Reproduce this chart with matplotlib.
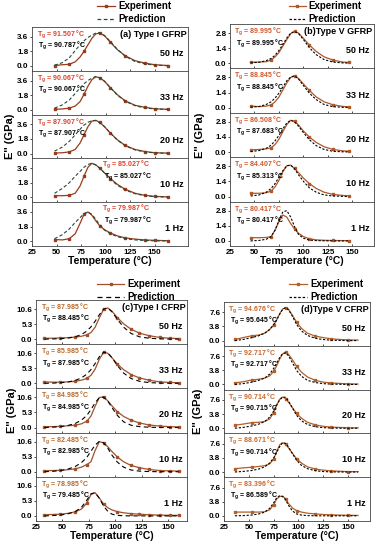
import matplotlib
matplotlib.use('Agg')
import matplotlib.pyplot as plt
from matplotlib.lines import Line2D

plt.rcParams['font.family'] = ['Liberation Sans', 'DejaVu Sans']
plt.rcParams['font.weight'] = 'bold'
plt.rcParams['mathtext.default'] = 'regular'

FREQS = ['50 Hz', '33 Hz', '20 Hz', '10 Hz', '1 Hz']

# ---- (a) Type I GFRP ----
a_temp = [48, 56, 63, 69, 74, 78, 82, 86, 90, 94, 99, 105, 112, 120, 130, 140, 150, 164]
a_mark = [0, 2, 5, 9, 11, 13, 15, 16, 17]
a_exp_50 = [0.05, 0.15, 0.2, 0.5, 1.1, 1.8, 2.6, 3.4, 3.95, 4.05, 3.7, 2.9, 2.0, 1.25, 0.65, 0.35, 0.15, 0.05]
a_pred_50 = [0.1, 0.4, 1.0, 1.9, 2.6, 3.1, 3.5, 3.8, 4.05, 4.1, 3.75, 3.0, 2.05, 1.2, 0.55, 0.25, 0.1, 0.02]
a_exp_33 = [0.05, 0.1, 0.2, 0.45, 1.0, 1.9, 2.9, 3.7, 4.05, 3.95, 3.5, 2.7, 1.85, 1.1, 0.55, 0.3, 0.12, 0.05]
a_pred_33 = [0.2, 0.6, 1.2, 2.0, 2.7, 3.2, 3.6, 3.9, 4.1, 3.95, 3.5, 2.7, 1.8, 1.05, 0.5, 0.22, 0.1, 0.03]
a_exp_20 = [0.05, 0.1, 0.2, 0.5, 1.3, 2.3, 3.3, 4.0, 4.1, 3.85, 3.3, 2.5, 1.7, 1.0, 0.5, 0.25, 0.1, 0.05]
a_pred_20 = [0.3, 0.8, 1.5, 2.3, 3.0, 3.5, 3.85, 4.05, 4.05, 3.8, 3.3, 2.5, 1.65, 0.95, 0.45, 0.2, 0.08, 0.03]
a_exp_10 = [0.2, 0.2, 0.25, 0.5, 1.4, 2.6, 3.7, 4.2, 4.0, 3.6, 3.0, 2.3, 1.6, 1.0, 0.5, 0.25, 0.12, 0.05]
a_pred_10 = [0.5, 1.1, 1.8, 2.6, 3.2, 3.7, 4.05, 4.2, 4.0, 3.6, 3.0, 2.2, 1.5, 0.9, 0.45, 0.2, 0.08, 0.03]
a_exp_1 = [0.2, 0.15, 0.3, 0.9, 2.2, 3.3, 3.6, 3.2, 2.5, 1.9, 1.4, 1.0, 0.65, 0.4, 0.25, 0.15, 0.1, 0.05]
a_pred_1 = [0.3, 0.8, 1.5, 2.3, 2.9, 3.4, 3.6, 3.3, 2.7, 2.0, 1.35, 0.9, 0.55, 0.3, 0.15, 0.08, 0.04, 0.02]
a_tg_exp = ['91.507', '90.067', '87.907', '85.027', '79.987']
a_tg_pred = ['90.787', '90.067', '87.907', '85.027', '79.987']

# ---- (b) Type V GFRP ----
b_temp = [46, 55, 62, 67, 71, 75, 79, 83, 87, 91, 95, 100, 106, 113, 121, 130, 140, 146]
b_mark = [0, 3, 9, 12, 15, 17]
b_exp_50 = [0.1, 0.12, 0.15, 0.3, 0.6, 1.0, 1.6, 2.2, 2.75, 2.95, 2.8, 2.3, 1.7, 1.1, 0.6, 0.3, 0.12, 0.08]
b_pred_50 = [0.05, 0.1, 0.25, 0.45, 0.75, 1.2, 1.75, 2.35, 2.8, 2.95, 2.75, 2.2, 1.45, 0.8, 0.35, 0.12, 0.04, 0.02]
b_exp_33 = [0.15, 0.1, 0.15, 0.25, 0.55, 1.0, 1.65, 2.3, 2.8, 2.95, 2.7, 2.2, 1.6, 1.0, 0.55, 0.28, 0.12, 0.08]
b_pred_33 = [0.05, 0.12, 0.3, 0.55, 0.9, 1.35, 1.9, 2.5, 2.85, 2.95, 2.65, 2.05, 1.35, 0.75, 0.3, 0.1, 0.04, 0.02]
b_exp_20 = [0.2, 0.25, 0.3, 0.4, 0.7, 1.2, 1.9, 2.55, 2.95, 2.85, 2.5, 1.95, 1.4, 0.9, 0.5, 0.25, 0.12, 0.08]
b_pred_20 = [0.05, 0.15, 0.35, 0.65, 1.05, 1.55, 2.15, 2.7, 2.95, 2.8, 2.4, 1.8, 1.15, 0.6, 0.25, 0.08, 0.03, 0.02]
b_exp_10 = [0.3, 0.3, 0.35, 0.5, 0.9, 1.5, 2.3, 2.85, 2.9, 2.6, 2.2, 1.7, 1.2, 0.75, 0.4, 0.2, 0.1, 0.06]
b_pred_10 = [0.05, 0.15, 0.4, 0.75, 1.2, 1.8, 2.4, 2.85, 2.9, 2.55, 2.0, 1.4, 0.8, 0.4, 0.15, 0.05, 0.02, 0.01]
b_exp_1 = [0.3, 0.3, 0.32, 0.4, 1.0, 1.8, 2.4, 2.2, 1.6, 1.1, 0.7, 0.4, 0.2, 0.1, 0.06, 0.04, 0.03, 0.02]
b_pred_1 = [0.0, 0.05, 0.15, 0.4, 1.0, 1.9, 2.7, 2.8, 2.2, 1.3, 0.6, 0.25, 0.08, 0.03, 0.01, 0.0, 0.0, 0.0]
b_tg_exp = ['89.995', '88.845', '86.508', '84.407', '80.417']
b_tg_pred = ['89.995', '88.845', '87.683', '85.313', '80.417']

# ---- (c) Type I CFRP ----
c_temp = [33, 40, 48, 55, 62, 68, 73, 77, 81, 85, 89, 93, 97, 102, 108, 115, 123, 132, 142, 152, 160]
c_mark = [0, 2, 4, 6, 10, 13, 15, 16, 17, 18, 19, 20]
c_exp_50 = [0.3, 0.3, 0.4, 0.5, 0.7, 1.0, 1.5, 2.3, 4.2, 7.5, 10.5, 11.0, 9.8, 7.6, 5.4, 3.5, 2.1, 1.2, 0.6, 0.3, 0.2]
c_pred_50 = [0.0, 0.05, 0.15, 0.35, 0.8, 1.6, 2.8, 4.3, 6.3, 8.6, 10.6, 11.0, 9.6, 7.0, 4.2, 2.0, 0.8, 0.3, 0.1, 0.0, 0.0]
c_exp_33 = [0.5, 0.4, 0.4, 0.5, 0.7, 1.1, 1.7, 2.8, 5.0, 8.5, 10.9, 10.6, 9.0, 6.8, 4.8, 3.1, 1.9, 1.1, 0.5, 0.3, 0.2]
c_pred_33 = [0.0, 0.05, 0.2, 0.45, 1.0, 1.9, 3.2, 4.8, 7.0, 9.4, 11.0, 10.7, 9.0, 6.3, 3.6, 1.7, 0.7, 0.25, 0.08, 0.0, 0.0]
c_exp_20 = [0.3, 0.3, 0.4, 0.6, 0.8, 1.3, 2.2, 4.0, 7.5, 10.6, 10.8, 9.4, 7.6, 5.6, 3.9, 2.6, 1.6, 0.9, 0.5, 0.3, 0.2]
c_pred_20 = [0.0, 0.1, 0.3, 0.7, 1.4, 2.6, 4.2, 6.3, 8.7, 10.6, 10.7, 9.3, 7.0, 4.3, 2.0, 0.8, 0.3, 0.1, 0.0, 0.0, 0.0]
c_exp_10 = [0.4, 0.4, 0.5, 0.7, 1.0, 1.6, 2.5, 3.5, 7.5, 10.6, 10.2, 8.8, 7.1, 5.2, 3.5, 2.2, 1.4, 0.8, 0.4, 0.3, 0.2]
c_pred_10 = [0.0, 0.1, 0.4, 0.9, 1.8, 3.2, 5.0, 7.2, 9.4, 10.7, 10.2, 8.3, 5.8, 3.4, 1.6, 0.6, 0.2, 0.05, 0.0, 0.0, 0.0]
c_exp_1 = [0.4, 0.5, 0.6, 0.9, 1.4, 2.4, 4.5, 7.5, 8.2, 6.3, 4.2, 2.9, 2.1, 1.5, 1.1, 0.8, 0.6, 0.4, 0.3, 0.2, 0.2]
c_pred_1 = [0.0, 0.1, 0.3, 0.7, 1.5, 3.0, 5.5, 7.8, 8.2, 6.2, 3.5, 1.6, 0.6, 0.2, 0.05, 0.0, 0.0, 0.0, 0.0, 0.0, 0.0]
c_tg_exp = ['87.985', '85.985', '84.985', '82.485', '78.985']
c_tg_pred = ['88.485', '87.985', '84.985', '82.985', '79.485']

# ---- (d) Type V CFRP ----
d_temp = [36, 44, 53, 60, 66, 71, 75, 78, 81, 84, 87, 90, 94, 98, 103, 109, 117, 125, 133, 142, 150, 160]
d_mark = [0, 2, 6, 10, 13, 16, 18, 20]
d_exp_50 = [0.3, 0.8, 1.3, 1.5, 2.0, 3.0, 4.2, 5.5, 7.2, 8.5, 8.9, 8.4, 6.8, 5.0, 3.3, 2.0, 1.2, 0.8, 0.5, 0.3, 0.2, 0.15]
d_pred_50 = [0.0, 0.3, 0.8, 1.3, 2.0, 3.0, 4.3, 5.6, 7.1, 8.4, 8.9, 8.3, 6.5, 4.4, 2.6, 1.4, 0.6, 0.3, 0.1, 0.05, 0.0, 0.0]
d_exp_33 = [0.4, 0.7, 1.2, 1.4, 1.7, 2.3, 3.5, 5.0, 6.8, 8.2, 8.6, 8.1, 6.6, 4.9, 3.3, 2.0, 1.1, 0.6, 0.4, 0.25, 0.15, 0.1]
d_pred_33 = [0.0, 0.2, 0.6, 1.1, 1.7, 2.8, 4.3, 5.7, 7.2, 8.3, 8.5, 7.7, 5.8, 3.8, 2.2, 1.1, 0.5, 0.2, 0.08, 0.03, 0.0, 0.0]
d_exp_20 = [0.8, 1.1, 1.5, 1.6, 1.8, 2.5, 4.2, 6.2, 7.8, 8.4, 8.0, 7.0, 5.5, 4.0, 2.7, 1.6, 0.9, 0.5, 0.3, 0.2, 0.1, 0.1]
d_pred_20 = [0.0, 0.2, 0.6, 1.1, 1.8, 3.0, 4.6, 6.2, 7.6, 8.4, 8.3, 7.3, 5.4, 3.5, 2.0, 1.0, 0.4, 0.15, 0.05, 0.0, 0.0, 0.0]
d_exp_10 = [0.9, 1.1, 1.3, 1.5, 1.7, 2.2, 3.5, 5.5, 7.3, 7.9, 7.5, 6.5, 5.0, 3.6, 2.4, 1.4, 0.8, 0.5, 0.3, 0.2, 0.1, 0.1]
d_pred_10 = [0.0, 0.15, 0.4, 0.8, 1.4, 2.4, 3.8, 5.2, 6.8, 7.9, 7.7, 6.7, 4.9, 3.2, 1.8, 0.9, 0.35, 0.12, 0.04, 0.0, 0.0, 0.0]
d_exp_1 = [1.0, 1.0, 1.0, 1.0, 1.1, 1.6, 3.0, 4.5, 5.2, 5.3, 4.6, 3.3, 2.1, 1.4, 1.0, 0.7, 0.5, 0.35, 0.25, 0.2, 0.15, 0.1]
d_pred_1 = [0.0, 0.05, 0.2, 0.5, 1.0, 2.0, 3.5, 4.8, 5.4, 5.2, 4.3, 2.8, 1.3, 0.5, 0.2, 0.05, 0.0, 0.0, 0.0, 0.0, 0.0, 0.0]
d_tg_exp = ['94.676', '92.717', '90.714', '88.671', '83.396']
d_tg_pred = ['95.645', '92.717', '90.715', '90.714', '86.589']

W, H = 384, 550


def px(left, right, top, bottom):
    return [left / W, 1 - bottom / H, (right - left) / W, (bottom - top) / H]


def drawPanel(fig, box, xlim, ylim, yticks, temps, marks, exps, preds, tgExp, tgPred,
              title, expColor, tgColor, predColor, predStyle, legendAt, handleLen,
              tgRight=(), ylabelX=0.02):
    left, bottom, width, height = box
    h = height / 5
    axes = []
    for i in range(5):
        ax = fig.add_axes([left, bottom + (4 - i) * h, width, h])
        ax.plot(temps, exps[i], color=expColor, lw=0.9, marker='s', ms=1.8,
                markevery=marks, zorder=3)
        ax.plot(temps, preds[i], color=predColor, lw=0.8, ls=predStyle, zorder=4)
        ax.set_xlim(*xlim)
        ax.set_ylim(*ylim)
        ax.set_yticks(yticks)
        ax.set_yticklabels([f'{v:.1f}' for v in yticks])
        ax.set_xticks([25, 50, 75, 100, 125, 150])
        ax.tick_params(axis='x', direction='in', length=1.5, width=0.5, labelsize=5.8, pad=2)
        ax.tick_params(axis='y', direction='out', length=1.5, width=0.5, labelsize=5.8, pad=1)
        if i < 4:
            ax.tick_params(axis='x', labelbottom=False)
        for s in ax.spines.values():
            s.set_linewidth(0.6)
            s.set_color('#444444')
        ax.text(0.97, 0.4, FREQS[i], transform=ax.transAxes, ha='right', va='center',
                fontsize=6.5, fontweight='bold')
        if i in tgRight:
            tx, ty1, ty2 = 0.45, 0.86, 0.6
        else:
            tx, ty1, ty2 = 0.03, 0.84, 0.58
        ax.text(tx, ty1, f'T$_g$ = {tgExp[i]} °C', transform=ax.transAxes, fontsize=5,
                color=tgColor, va='center')
        ax.text(tx + 0.01, ty2, f'T$_g$ = {tgPred[i]} °C', transform=ax.transAxes, fontsize=5,
                color='black', va='center')
        axes.append(ax)
    axes[0].text(0.99, 0.83, title, transform=axes[0].transAxes, ha='right', va='center',
                 fontsize=6.5, fontweight='bold')
    axes[-1].set_xlabel('Temperature (°C)', fontsize=7.5, fontweight='bold', labelpad=0)
    fig.text(ylabelX, bottom + height / 2, "E'' (GPa)", rotation=90, ha='center', va='center',
             fontsize=8, fontweight='bold')
    handles = [Line2D([], [], color=expColor, lw=0.9, marker='s', ms=1.8, markevery=[1]),
               Line2D([], [], color=predColor, lw=0.9, ls=predStyle)]
    fig.legend(handles, ['Experiment', 'Prediction'], loc='upper left',
               bbox_to_anchor=(legendAt[0] / W, 1 - legendAt[1] / H), frameon=False,
               fontsize=7, handlelength=handleLen, handletextpad=0.3, labelspacing=0.3,
               borderpad=0, borderaxespad=0)
    return axes


fig = plt.figure(figsize=(W / 100, H / 100), dpi=100)

drawPanel(fig, px(32, 188, 27, 246), (25, 184), (-0.6, 4.8), [0.0, 1.8, 3.6], a_temp, a_mark,
          [a_exp_50, a_exp_33, a_exp_20, a_exp_10, a_exp_1],
          [a_pred_50, a_pred_33, a_pred_20, a_pred_10, a_pred_1],
          a_tg_exp, a_tg_pred, '(a) Type I GFRP', '#9a3b1c', '#e0402a', '#1e4d3a',
          (0, (3, 2)), (97, 1), 1.9, tgRight=(3, 4), ylabelX=0.026)

drawPanel(fig, px(230, 374, 24, 246), (25, 172), (-0.47, 3.64), [0.0, 1.4, 2.8], b_temp, b_mark,
          [b_exp_50, b_exp_33, b_exp_20, b_exp_10, b_exp_1],
          [b_pred_50, b_pred_33, b_pred_20, b_pred_10, b_pred_1],
          b_tg_exp, b_tg_pred, '(b)Type V GFRP', '#b0582a', '#d4562a', 'black',
          (0, (2, 1.5)), (289, 1), 1.7, ylabelX=0.52)

drawPanel(fig, px(36, 187, 300, 521), (25, 168), (-1.8, 13.8), [0.0, 5.3, 10.6], c_temp, c_mark,
          [c_exp_50, c_exp_33, c_exp_20, c_exp_10, c_exp_1],
          [c_pred_50, c_pred_33, c_pred_20, c_pred_10, c_pred_1],
          c_tg_exp, c_tg_pred, '(c)Type I CFRP', '#a0522d', '#b8692a', 'black',
          (0, (4, 3)), (97, 279), 2.8, ylabelX=0.03)

drawPanel(fig, px(224, 370, 302, 521), (25, 172), (-1.4, 10.4), [0.0, 3.8, 7.6], d_temp, d_mark,
          [d_exp_50, d_exp_33, d_exp_20, d_exp_10, d_exp_1],
          [d_pred_50, d_pred_33, d_pred_20, d_pred_10, d_pred_1],
          d_tg_exp, d_tg_pred, '(d)Type V CFRP', '#b0602a', '#c8682a', 'black',
          (0, (2, 1.5)), (289, 279), 1.9, ylabelX=0.515)

fig.savefig('out.png', dpi=100)
